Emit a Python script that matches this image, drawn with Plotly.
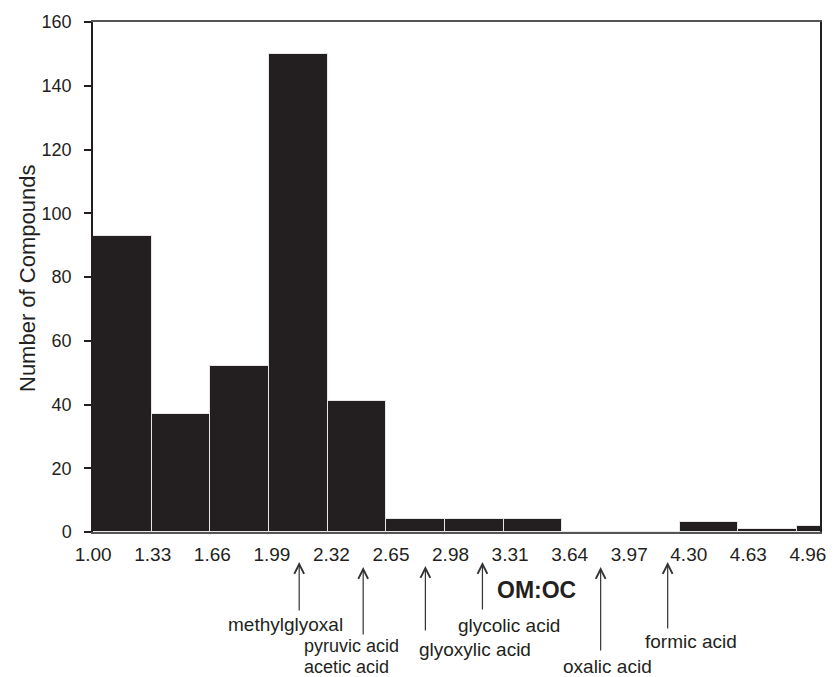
import plotly.graph_objects as go

# ---- data ----
bin_left = [1.00, 1.33, 1.66, 1.99, 2.32, 2.65, 2.98, 3.31, 3.64, 3.97, 4.30, 4.63, 4.96]
counts = [93, 37, 52, 150, 41, 4, 4, 4, 0, 0, 3, 1, 2]
tick_vals = [1.00, 1.33, 1.66, 1.99, 2.32, 2.65, 2.98, 3.31, 3.64, 3.97, 4.30, 4.63, 4.96]
tick_text = ["1.00", "1.33", "1.66", "1.99", "2.32", "2.65", "2.98", "3.31", "3.64", "3.97", "4.30", "4.63", "4.96"]
y_ticks = [0, 20, 40, 60, 80, 100, 120, 140, 160]

compounds = ["methylglyoxal", "pyruvic acid", "acetic acid", "glyoxylic acid",
             "glycolic acid", "oxalic acid", "formic acid"]
arrow_x = [2.16, 2.52, 2.87, 3.191, 3.856, 4.233]   # OM:OC marked by arrows

# ---- layout (window pixels; page body adds an 8px margin) ----
OFF = 8
W, H = 834 - OFF, 677 - OFF
L, R, T, B = 93, 820, 22, 532        # plot area in window pixels


def py(p):
    return (B - p) / (B - T)


def px(p):
    return (p - L) / (R - L)


fig = go.Figure()
fig.add_trace(go.Bar(
    x=bin_left, y=counts, width=[0.33] * len(counts), offset=0,
    marker=dict(color="#231f20", line=dict(color="#e6e6e6", width=1)),
    hoverinfo="skip", xaxis="x", yaxis="y",
))

font_fam = "Liberation Sans, Arial, sans-serif"
ink = "#231f20"

annotations = []
arrow_pix = [(562, 612), (567, 636), (566, 632), (562, 611), (567, 652), (562, 630)]
for xv, (h, t) in zip(arrow_x, arrow_pix):
    annotations.append(dict(
        x=xv, y=py(h), xref="x", yref="paper", text="", showarrow=True,
        ax=0, ay=t - h, axref="pixel", ayref="pixel",
        arrowhead=5, arrowsize=1.6, arrowwidth=1.2, arrowcolor="#333333",
        standoff=0, startstandoff=0,
    ))

label_pos = [(285, 624, "center", 19), (302, 646, "left", 18), (302, 666.5, "left", 18),
             (475, 649, "center", 19), (509, 625, "center", 19), (607, 666, "center", 19),
             (691, 641, "center", 19)]
for txt, (xp, yp, anc, fs) in zip(compounds, label_pos):
    annotations.append(dict(
        x=px(xp), y=py(yp), xref="paper", yref="paper", text=txt, showarrow=False,
        xanchor=anc, yanchor="middle", font=dict(family=font_fam, size=fs, color=ink),
    ))

annotations.append(dict(
    x=px(536), y=py(590), xref="paper", yref="paper", text="<b>OM:OC</b>", showarrow=False,
    xanchor="center", yanchor="middle", font=dict(family=font_fam, size=23, color=ink),
))
annotations.append(dict(
    x=px(27), y=py(279), xref="paper", yref="paper", text="Number of Compounds", showarrow=False,
    textangle=-90, xanchor="center", yanchor="middle",
    font=dict(family=font_fam, size=22, color=ink),
))

fig.update_layout(
    width=W, height=H,
    margin=dict(l=L - OFF, r=W - (R - OFF), t=T - OFF, b=H - (B - OFF), pad=0, autoexpand=False),
    paper_bgcolor="white", plot_bgcolor="white",
    showlegend=False, bargap=0,
    annotations=annotations,
    font=dict(family=font_fam, size=18, color=ink),
    xaxis=dict(
        range=[1.0, 5.09], showticklabels=False, automargin=False,
        showgrid=False, zeroline=False, showline=True, linecolor="#555555", linewidth=1.5,
        mirror=True, ticks="",
    ),
    # tick-label axis (labels in the original are spaced slightly wider than the bins)
    xaxis2=dict(
        overlaying="x", side="bottom", range=[0.999, 5.027], automargin=False,
        tickvals=tick_vals, ticktext=tick_text, ticklabelstandoff=9,
        showgrid=False, zeroline=False, showline=False, ticks="",
        tickfont=dict(family=font_fam, size=19, color=ink),
    ),
    yaxis=dict(
        range=[0, 160], tickvals=y_ticks, automargin=False,
        showgrid=False, zeroline=False, showline=True, linecolor=ink, linewidth=1.5,
        mirror=True, ticks="outside", ticklen=7, tickwidth=1.5, tickcolor=ink,
        ticklabelstandoff=9,
        tickfont=dict(family=font_fam, size=18, color=ink),
    ),
)
# invisible trace so the label axis is drawn
fig.add_trace(go.Scatter(x=[tick_vals[0]], y=[0], xaxis="x2", yaxis="y",
                         mode="markers", marker=dict(opacity=0), hoverinfo="skip"))

fig.write_html("out.html")
